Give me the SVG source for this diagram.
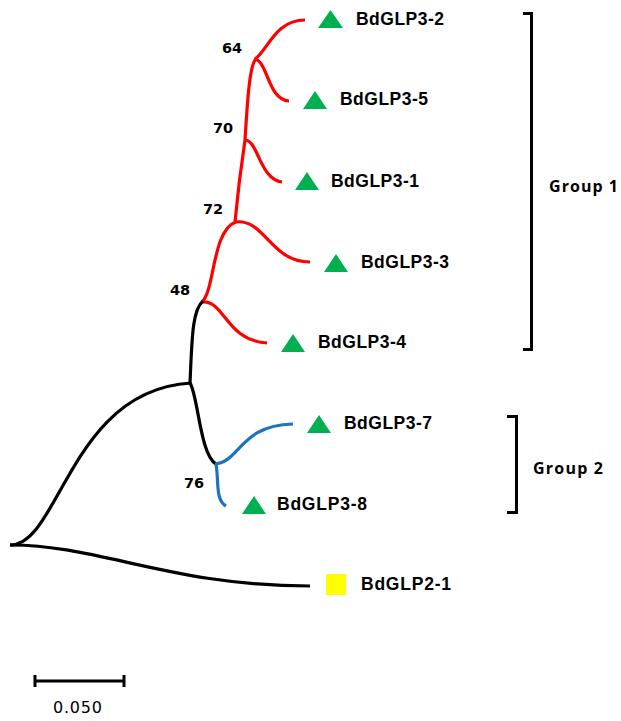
<svg xmlns="http://www.w3.org/2000/svg" width="621" height="721" viewBox="0 0 621 721">
  <style>
    .br { fill: none; stroke-width: 3.2; stroke-linecap: butt; }
    .red { stroke: #ff0000; }
    .blk { stroke: #000000; }
    .blu { stroke: #1c75bc; }
    .lbl { font-family: "Liberation Sans", Arial, sans-serif; font-weight: bold; font-size: 17.5px; fill: #000; }
    .bs { font-family: "DejaVu Sans", Verdana, sans-serif; font-weight: bold; font-size: 14.5px; fill: #000; }
    .grp { font-family: "Open Sans", "Noto Sans", sans-serif; font-weight: bold; font-size: 16px; fill: #000; }
    .tri { fill: #00b050; }
    .sq { fill: #ffff00; }
    .bkt { fill: none; stroke: #000; stroke-width: 3; }
  </style>
  <rect width="621" height="721" fill="#ffffff"/>

  <!-- tree branches -->
  <g id="connectors">
    <path class="br red" d="M255,59 C268,50 275,20 305,20"/>
    <path class="br red" d="M255,59 C268,62 268,100 289,101"/>
    <path class="br red" d="M245,140 C247,110 249,65 256,59"/>
    <path class="br red" d="M245,140 C258,140 260,180 282,182"/>
    <path class="br red" d="M235,222 C238,190 242,160 245,140"/>
    <path class="br red" d="M235,222 C265,218 270,262 310,262"/>
    <path class="br red" d="M202,302 C215,290 212,230 236,222"/>
    <path class="br red" d="M202,302 C225,300 225,340 267,343"/>
    <path class="br blk" d="M190,383 C192,340 192,310 203,301"/>
    <path class="br blk" d="M190,383 C198,395 200,455 216,464"/>
    <path class="br blu" d="M215,464 C240,462 240,425 293,424"/>
    <path class="br blu" d="M216,464 C219,480 215,500 226,506"/>
    <path class="br blk" d="M10,545 C60,545 70,390 191,383"/>
    <path class="br blk" d="M10,545 C100,545 170,586 310,586"/>
  </g>

  <!-- bootstrap values -->
  <g id="bootstrap">
    <text class="bs" x="222" y="53">64</text>
    <text class="bs" x="213" y="133">70</text>
    <text class="bs" x="203" y="214">72</text>
    <text class="bs" x="170" y="295">48</text>
    <text class="bs" x="184" y="488">76</text>
  </g>

  <!-- leaves -->
  <g id="BdGLP3-2">
    <polygon class="tri" points="318,28 330.5,10 343,28"/>
    <text class="lbl" x="356" y="25" textLength="88">BdGLP3-2</text>
  </g>
  <g id="BdGLP3-5">
    <polygon class="tri" points="303,109 315,91 327,109"/>
    <text class="lbl" x="340" y="105" textLength="88">BdGLP3-5</text>
  </g>
  <g id="BdGLP3-1">
    <polygon class="tri" points="295,190 307,172 319,190"/>
    <text class="lbl" x="331" y="187" textLength="88">BdGLP3-1</text>
  </g>
  <g id="BdGLP3-3">
    <polygon class="tri" points="324,272 336,254 348,272"/>
    <text class="lbl" x="361" y="268" textLength="88">BdGLP3-3</text>
  </g>
  <g id="BdGLP3-4">
    <polygon class="tri" points="281,352 293,334 305,352"/>
    <text class="lbl" x="318" y="348" textLength="88">BdGLP3-4</text>
  </g>
  <g id="BdGLP3-7">
    <polygon class="tri" points="307,433 319,415 331,433"/>
    <text class="lbl" x="344" y="429" textLength="88">BdGLP3-7</text>
  </g>
  <g id="BdGLP3-8">
    <polygon class="tri" points="242,514 254,496 266,514"/>
    <text class="lbl" x="277" y="510" textLength="90">BdGLP3-8</text>
  </g>
  <g id="BdGLP2-1">
    <rect class="sq" x="326" y="574" width="20" height="21"/>
    <text class="lbl" x="361" y="590" textLength="90">BdGLP2-1</text>
  </g>

  <!-- group brackets -->
  <g id="group1">
    <path class="bkt" d="M523,13.5 H531.5 V349.5 H523"/>
    <text class="grp" x="549" y="192" textLength="69">Group 1</text>
  </g>
  <g id="group2">
    <path class="bkt" d="M507,416.5 H516.5 V512.5 H507"/>
    <text class="grp" x="533" y="474" textLength="70">Group 2</text>
  </g>

  <!-- scale bar -->
  <g id="scale">
    <path d="M35,681 H124" stroke="#000" stroke-width="3" fill="none"/>
    <path d="M35,675 V687 M124,675 V687" stroke="#000" stroke-width="3" fill="none"/>
    <text x="53" y="713" font-family="DejaVu Sans, Verdana, sans-serif" font-size="16" fill="#000" textLength="49">0.050</text>
  </g>
</svg>
